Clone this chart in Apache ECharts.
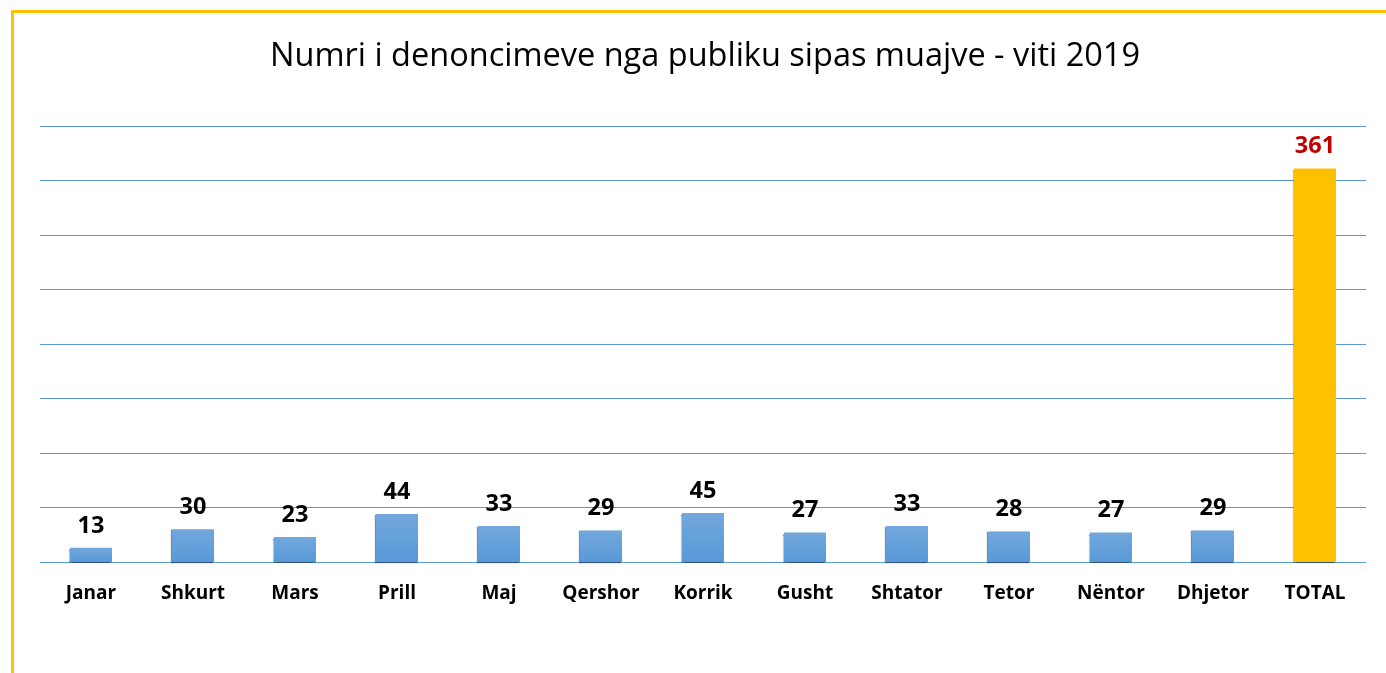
<!DOCTYPE html>
<html>
<head>
<meta charset="utf-8">
<script src="https://cdn.jsdelivr.net/npm/echarts@6/dist/echarts.min.js"></script>
<style>
  html, body { margin: 0; padding: 0; background: #fff; }
  #chart { width: 1386px; height: 673px; }
</style>
</head>
<body>
<div id="chart"></div>
<script>
// muajt dhe numri i denoncimeve
const months = ['Janar', 'Shkurt', 'Mars', 'Prill', 'Maj', 'Qershor', 'Korrik', 'Gusht', 'Shtator', 'Tetor', 'Nëntor', 'Dhjetor', 'TOTAL'];
const counts = [13, 30, 23, 44, 33, 29, 45, 27, 33, 28, 27, 29, 361];

const myChart = echarts.init(document.getElementById('chart'));

const barData = counts.map((v, i) => {
  if (months[i] === 'TOTAL') {
    return {
      value: v,
      itemStyle: { color: '#FFC000' },
      label: { color: '#C00000' }
    };
  }
  return v;
});

const option = {
  animation: false,
  textStyle: { fontFamily: 'Open Sans' },
  title: {
    text: 'Numri i denoncimeve nga publiku sipas muajve - viti 2019',
    left: 700,
    textAlign: 'center',
    top: 35,
    textStyle: {
      fontFamily: 'Open Sans',
      fontSize: 32.5,
      fontWeight: 'normal',
      color: '#000'
    }
  },
  graphic: [
    { type: 'rect', shape: { x: 11, y: 10, width: 1400, height: 3 }, style: { fill: '#FFC000' } },
    { type: 'rect', shape: { x: 11, y: 10, width: 3, height: 700 }, style: { fill: '#FFC000' } }
  ],
  grid: {
    left: 40,
    right: 20,
    top: 126,
    bottom: 111
  },
  xAxis: {
    type: 'category',
    data: months,
    axisLine: { show: false },
    axisTick: { show: false },
    axisLabel: {
      margin: 22,
      fontSize: 19,
      fontWeight: 'bold',
      color: '#000',
      fontFamily: 'Open Sans'
    }
  },
  yAxis: {
    type: 'value',
    min: 0,
    max: 400,
    interval: 50,
    axisLabel: { show: false },
    axisLine: { show: false },
    axisTick: { show: false },
    splitLine: { lineStyle: { color: '#5B9BD5', width: 1.2 } }
  },
  series: [
    {
      type: 'bar',
      data: barData,
      barWidth: 42,
      itemStyle: {
        color: new echarts.graphic.LinearGradient(0, 0, 0, 1, [
          { offset: 0, color: '#72A8DC' },
          { offset: 1, color: '#5899D8' }
        ]),
        shadowColor: 'rgba(0,0,0,0.45)',
        shadowOffsetX: -1,
        shadowOffsetY: 1,
        shadowBlur: 1
      },
      label: {
        show: true,
        position: 'top',
        distance: 10,
        fontSize: 23.5,
        fontWeight: 'bold',
        color: '#000',
        fontFamily: 'Open Sans'
      }
    }
  ]
};

myChart.setOption(option);
</script>
</body>
</html>
